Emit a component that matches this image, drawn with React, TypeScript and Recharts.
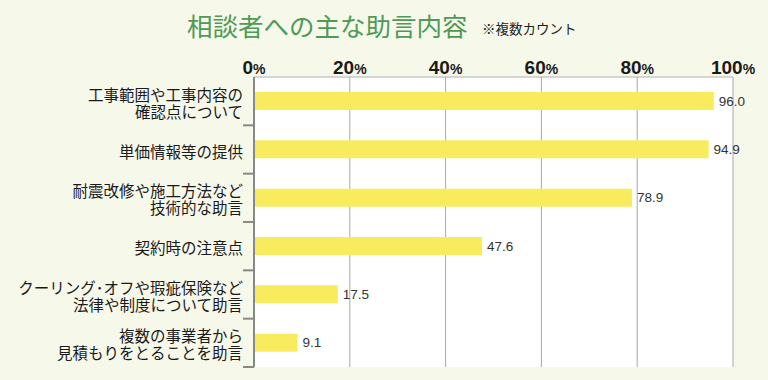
import React from 'react';
import { BarChart, Bar, XAxis, YAxis, CartesianGrid, LabelList } from 'recharts';

const categories = [
    '工事範囲や工事内容の\n確認点について',
    '単価情報等の提供',
    '耐震改修や施工方法など\n技術的な助言',
    '契約時の注意点',
    'クーリング･オフや瑕疵保険など\n法律や制度について助言',
    '複数の事業者から\n見積もりをとることを助言',
];
const values = [96.0, 94.9, 78.9, 47.6, 17.5, 9.1];
const xTicks = [0, 20, 40, 60, 80, 100];

const data = categories.map((name, i) => ({ name, value: values[i] }));

const JP = '"Noto Sans CJK JP", "Noto Sans", sans-serif';

function PercentTick(props: any) {
    const { x, y, payload } = props;
    return (
        <text x={x} y={y} dy={5} textAnchor="middle" fill="#1a1a1a" fontFamily='"Liberation Sans", Arial, sans-serif' fontWeight="bold">
            <tspan fontSize={19}>{payload.value}</tspan>
            <tspan fontSize={14}>%</tspan>
        </text>
    );
}

function CategoryTick(props: any) {
    const { x, y, payload } = props;
    const lines: string[] = String(payload.value).split('\n');
    const half = payload.offset ?? 24;
    const first = lines.length === 1 ? 8 : -0.5;
    return (
        <g>
            <text x={x - 11} y={y + first} textAnchor="end" fontSize={15.5} fill="#1a1a1a" fontFamily={JP}>
                {lines.map((line, i) => (
                    <tspan key={i} x={x - 11} dy={i === 0 ? 0 : 17}>
                        {line}
                    </tspan>
                ))}
            </text>
            <line x1={x - 11} x2={x} y1={y + half} y2={y + half} stroke="#888" strokeWidth={2} />
        </g>
    );
}

export default function App() {
    return (
        <div style={{ position: 'absolute', left: 0, top: 0, width: 768, height: 380, background: '#f6f8ea' }}>
            <svg width={768} height={60} style={{ position: 'absolute', left: 0, top: 0 }}>
                <text x={187} y={36} fontSize={25.5} fill="#4f9a56" fontFamily={JP}>相談者への主な助言内容</text>
                <text x={482} y={34} fontSize={13.5} fill="#222" fontFamily={JP}>※複数カウント</text>
            </svg>
            <div style={{ position: 'absolute', left: 0, top: 0 }}>
                <BarChart
                    width={768}
                    height={380}
                    data={data}
                    layout="vertical"
                    margin={{ top: 47, right: 35, bottom: 13, left: 14 }}
                >
                    <CartesianGrid horizontal={false} stroke="#a8a8a8" fill="#ffffff" fillOpacity={1} />
                    <XAxis
                        type="number"
                        orientation="top"
                        domain={[0, 100]}
                        ticks={xTicks}
                        height={30}
                        tickLine={false}
                        axisLine={{ stroke: '#b0b0b0' }}
                        tick={<PercentTick />}
                        interval={0}
                    />
                    <XAxis
                        xAxisId="bottom"
                        type="number"
                        orientation="bottom"
                        domain={[0, 100]}
                        height={0}
                        tick={false}
                        tickLine={false}
                        axisLine={{ stroke: '#999', strokeWidth: 2 }}
                    />
                    <YAxis
                        type="category"
                        dataKey="name"
                        width={240}
                        tickSize={0}
                        tickMargin={0}
                        tickLine={false}
                        axisLine={{ stroke: '#888', strokeWidth: 2 }}
                        tick={<CategoryTick />}
                        interval={0}
                    />
                    <Bar dataKey="value" fill="#f8ec5e" barSize={18} isAnimationActive={false}>
                        <LabelList
                            dataKey="value"
                            position="right"
                            offset={5}
                            formatter={(v: any) => Number(v).toFixed(1)}
                            style={{ fontSize: 13.5, fill: '#333', fontFamily: '"Liberation Sans", Arial, sans-serif' }}
                        />
                    </Bar>
                </BarChart>
            </div>
        </div>
    );
}
